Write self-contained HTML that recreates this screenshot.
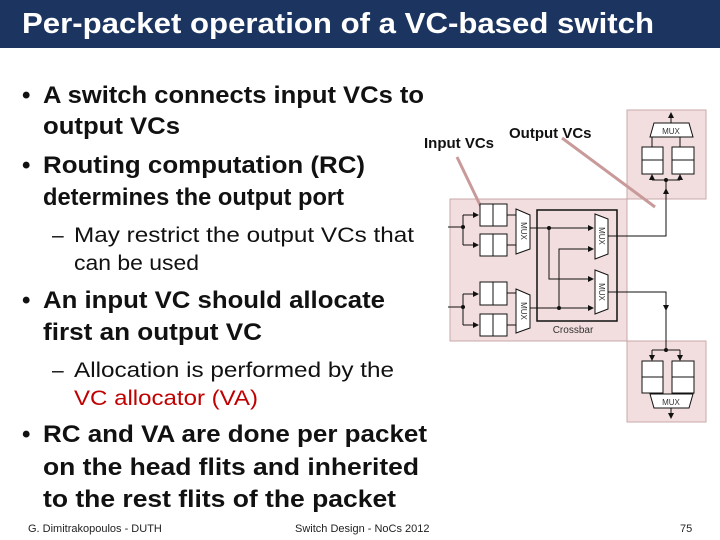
<!DOCTYPE html>
<html><head><meta charset="utf-8"><style>
html,body{margin:0;padding:0;background:#fff;}
svg{display:block;}
text{font-family:"Liberation Sans",sans-serif;}
</style></head><body>
<svg width="720" height="540" viewBox="0 0 720 540" xmlns="http://www.w3.org/2000/svg">
<defs>
<marker id="a" markerWidth="6" markerHeight="6" refX="5" refY="3" orient="auto" markerUnits="userSpaceOnUse"><path d="M0,0 L6,3 L0,6z" fill="#111"/></marker>
</defs>
<rect x="0" y="0" width="720" height="48" fill="#1c3560"/>
<text x="22" y="33" font-size="29" font-weight="bold" fill="#fff" textLength="632" lengthAdjust="spacingAndGlyphs">Per-packet operation of a VC-based switch</text>

<g font-weight="bold" font-size="24" fill="#111">
<text x="22" y="103">•</text>
<text x="43" y="103" textLength="381" lengthAdjust="spacingAndGlyphs">A switch connects input VCs to</text>
<text x="43" y="134" textLength="137" lengthAdjust="spacingAndGlyphs">output VCs</text>
<text x="22" y="173">•</text>
<text x="43" y="173" textLength="322" lengthAdjust="spacingAndGlyphs">Routing computation (RC)</text>
<text x="43" y="205" textLength="301" lengthAdjust="spacingAndGlyphs">determines the output port</text>
<text x="22" y="308">•</text>
<text x="43" y="308" textLength="342" lengthAdjust="spacingAndGlyphs">An input VC should allocate</text>
<text x="43" y="340" textLength="219" lengthAdjust="spacingAndGlyphs">first an output VC</text>
<text x="22" y="442">•</text>
<text x="43" y="442" textLength="384" lengthAdjust="spacingAndGlyphs">RC and VA are done per packet</text>
<text x="43" y="475" textLength="376" lengthAdjust="spacingAndGlyphs">on the head flits and inherited</text>
<text x="43" y="507" textLength="353" lengthAdjust="spacingAndGlyphs">to the rest flits of the packet</text>
</g>
<g font-size="21" fill="#111">
<text x="52" y="242">–</text>
<text x="74" y="242" textLength="340" lengthAdjust="spacingAndGlyphs">May restrict the output VCs that</text>
<text x="74" y="270" textLength="125" lengthAdjust="spacingAndGlyphs">can be used</text>
<text x="52" y="377">–</text>
<text x="74" y="377" textLength="320" lengthAdjust="spacingAndGlyphs">Allocation is performed by the</text>
<text x="74" y="405" fill="#c00000" textLength="184" lengthAdjust="spacingAndGlyphs">VC allocator (VA)</text>
</g>
<g font-size="11" fill="#222">
<text x="28" y="532">G. Dimitrakopoulos - DUTH</text>
<text x="295" y="532">Switch Design - NoCs 2012</text>
<text x="680" y="532">75</text>
</g>

<!-- diagram -->
<rect x="627" y="110" width="79" height="89" fill="#f2dede" stroke="#c8a8a8"/>
<rect x="450" y="199" width="177" height="142" fill="#f2dede" stroke="#c8a8a8"/>
<rect x="627" y="341" width="79" height="81" fill="#f2dede" stroke="#c8a8a8"/>

<g font-weight="bold" font-size="15" fill="#111">
<text x="424" y="148">Input VCs</text>
<text x="509" y="138">Output VCs</text>
</g>
<line x1="457" y1="157" x2="481" y2="207" stroke="#c99a9a" stroke-width="3"/>
<line x1="562" y1="138" x2="655" y2="207" stroke="#c99a9a" stroke-width="3"/>

<g stroke="#111" fill="#fff" stroke-width="1">
<rect x="480" y="204" width="27" height="22"/><line x1="493" y1="204" x2="493" y2="226"/>
<rect x="480" y="234" width="27" height="22"/><line x1="493" y1="234" x2="493" y2="256"/>
<rect x="480" y="282" width="27" height="23"/><line x1="493" y1="282" x2="493" y2="305"/>
<rect x="480" y="314" width="27" height="22"/><line x1="493" y1="314" x2="493" y2="336"/>
<path d="M516,209 L530,215 L530,249 L516,254z"/>
<path d="M516,289 L530,295 L530,328 L516,333z"/>
<rect x="537" y="210" width="80" height="111" fill="none" stroke-width="1.5"/>
<path d="M595,214 L608,219 L608,254 L595,259z"/>
<path d="M595,270 L608,275 L608,309 L595,314z"/>
<rect x="642" y="147" width="21" height="27"/><line x1="642" y1="160" x2="663" y2="160"/>
<rect x="672" y="147" width="22" height="27"/><line x1="672" y1="160" x2="694" y2="160"/>
<rect x="642" y="361" width="21" height="32"/><line x1="642" y1="377" x2="663" y2="377"/>
<rect x="672" y="361" width="22" height="32"/><line x1="672" y1="377" x2="694" y2="377"/>
<path d="M654,123 L689,123 L693,137 L650,137z"/>
<path d="M650,394 L693,394 L689,408 L654,408z"/>
</g>
<g font-size="8" fill="#333" text-anchor="middle">
<text x="671" y="134">MUX</text>
<text x="671" y="405">MUX</text>
<text x="573" y="333" font-size="10">Crossbar</text>
<text transform="translate(521,231) rotate(90)">MUX</text>
<text transform="translate(521,311) rotate(90)">MUX</text>
<text transform="translate(599,236) rotate(90)">MUX</text>
<text transform="translate(599,292) rotate(90)">MUX</text>
</g>
<g stroke="#111" fill="none" stroke-width="1">
<path d="M448,227 H463 M463,215 V245"/>
<path d="M448,307 H463 M463,294 V325"/>
<path d="M463,215 H478" marker-end="url(#a)"/>
<path d="M463,245 H478" marker-end="url(#a)"/>
<path d="M463,294 H478" marker-end="url(#a)"/>
<path d="M463,325 H478" marker-end="url(#a)"/>
<line x1="507" y1="215" x2="516" y2="215"/><line x1="507" y1="245" x2="516" y2="245"/>
<line x1="507" y1="293" x2="516" y2="293"/><line x1="507" y1="325" x2="516" y2="325"/>
<path d="M530,228 H593" marker-end="url(#a)"/>
<path d="M530,308 H593" marker-end="url(#a)"/>
<path d="M549,228 V279 H593" marker-end="url(#a)"/>
<path d="M559,308 V249 H593" marker-end="url(#a)"/>
<path d="M608,236 H666 V189"/>
<path d="M666,199 V189" marker-end="url(#a)"/>
<path d="M666,189 V180 M652,180 H680"/>
<path d="M652,180 V175" marker-end="url(#a)"/>
<path d="M680,180 V175" marker-end="url(#a)"/>
<path d="M652,147 V137 M680,147 V137"/>
<path d="M671,123 V113" marker-end="url(#a)"/>
<path d="M608,292 H666 V350 M652,350 H680"/>
<path d="M666,300 V310" marker-end="url(#a)"/>
<path d="M652,350 V360" marker-end="url(#a)"/>
<path d="M680,350 V360" marker-end="url(#a)"/>
<path d="M671,408 V418" marker-end="url(#a)"/>
</g>
<g fill="#111">
<circle cx="463" cy="227" r="2"/><circle cx="463" cy="307" r="2"/>
<circle cx="549" cy="228" r="2"/><circle cx="559" cy="308" r="2"/>
<circle cx="666" cy="180" r="2"/><circle cx="666" cy="350" r="2"/>
</g>
</svg>
</body></html>
